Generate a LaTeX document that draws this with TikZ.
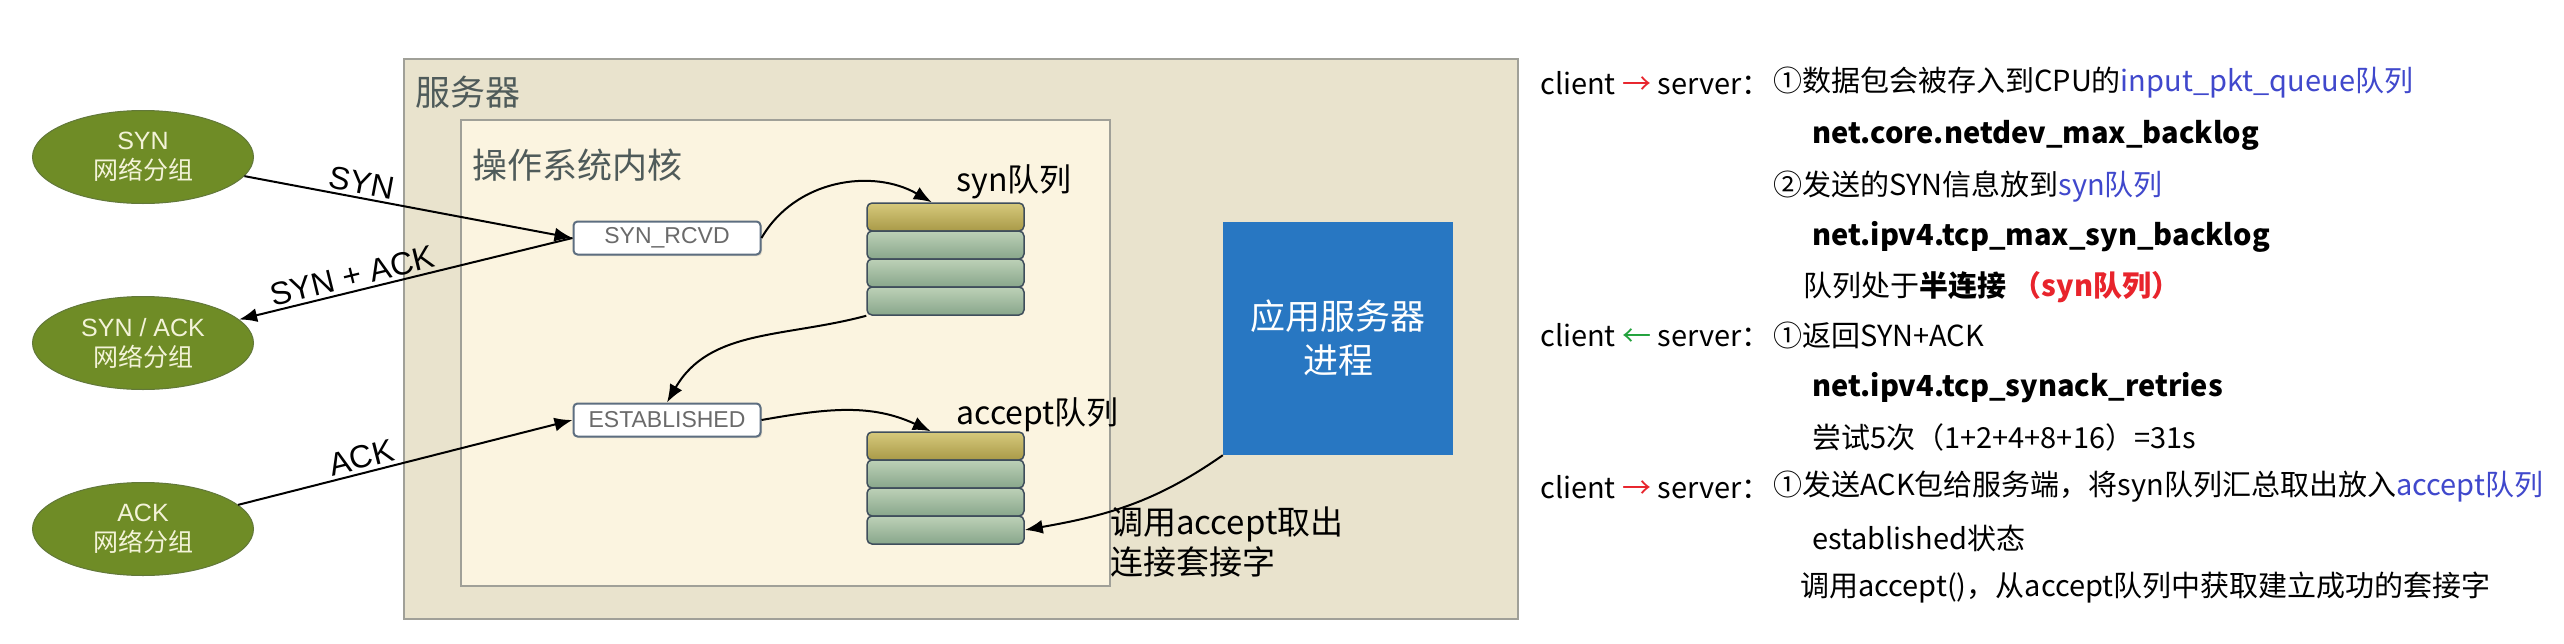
\documentclass[tikz,border=0pt]{standalone}
\usepackage{fontspec}
\setmainfont{Noto Sans CJK SC}
\newfontfamily\arial{Liberation Sans}
\usetikzlibrary{arrows.meta,shapes.geometric,shadows}
\definecolor{outerbg}{HTML}{E9E3CD}
\definecolor{innerbg}{HTML}{FBF4E0}
\definecolor{framegray}{HTML}{A0A098}
\definecolor{titlegray}{HTML}{4F5B5A}
\definecolor{pktgreen}{HTML}{6F8C26}
\definecolor{pktedge}{HTML}{62783A}
\definecolor{pkttext}{HTML}{F3F3D8}
\definecolor{stateedge}{HTML}{5D6E80}
\definecolor{stategray}{HTML}{6A6A6A}
\definecolor{celledge}{HTML}{3F4E5C}
\definecolor{celltop}{HTML}{BDD1B7}
\definecolor{cellbot}{HTML}{88A68B}
\definecolor{headtop}{HTML}{D6C97C}
\definecolor{headbot}{HTML}{A99A48}
\definecolor{appblue}{HTML}{2877C2}
\definecolor{linkblue}{HTML}{4048CC}
\definecolor{arrowred}{HTML}{E8242C}
\definecolor{arrowgreen}{HTML}{22A23C}

\begin{document}
\begin{tikzpicture}[x=1pt,y=1pt,
  boxframe/.style={draw=framegray, line width=1.5pt, anchor=north west, inner sep=0pt},
  boxtitle/.style={anchor=west, text=titlegray, font=\fontsize{35}{40}\selectfont},
  pkt/.style={ellipse, fill=pktgreen, draw=pktedge, line width=1pt, minimum width=221pt,
    minimum height=93pt, inner sep=0pt, text=pkttext, align=center, font=\fontsize{25}{30}\selectfont},
  state/.style={rectangle, rounded corners=4pt, fill=white, draw=stateedge, line width=2pt,
    minimum width=187pt, minimum height=33pt, inner sep=0pt, text=stategray,
    font=\arial\fontsize{23}{26}\selectfont,
    drop shadow={opacity=0.25, shadow xshift=1.5pt, shadow yshift=-1.5pt}},
  cell/.style={rectangle, rounded corners=5pt, draw=celledge, line width=1.5pt,
    minimum width=157pt, minimum height=28pt, inner sep=0pt, top color=celltop, bottom color=cellbot},
  headcell/.style={cell, top color=headtop, bottom color=headbot},
  qlabel/.style={anchor=west, font=\fontsize{32}{36}\selectfont},
  flow/.style={-{Latex[length=18pt,width=14pt]}, line width=2pt},
  msg/.style={font=\arial\fontsize{32}{36}\selectfont, sloped, above},
  note/.style={anchor=west, inner sep=0pt, font=\fontsize{29}{34}\selectfont},
]
\useasboundingbox (0,0) rectangle (2564,-643);
\fill[white] (0,0) rectangle (2564,-643);

% server and kernel
\node[boxframe, fill=outerbg, minimum width=1114pt, minimum height=560pt] (server) at (403,-58) {};
\node[boxtitle] (servertitle) at (412,-92) {服务器};
\node[boxframe, fill=innerbg, minimum width=649pt, minimum height=466pt] (kernel) at (460,-119) {};
\node[boxtitle] (kerneltitle) at (469,-165) {操作系统内核};

% packets
\node[pkt] (synpkt) at (143,-157) {{\arial SYN}\\网络分组};
\node[pkt] (synackpkt) at (143,-343) {{\arial SYN / ACK}\\网络分组};
\node[pkt] (ackpkt) at (143,-529) {{\arial ACK}\\网络分组};

% states
\node[state] (rcvd) at (667,-238) {SYN\_RCVD};
\node[state] (estab) at (667,-420) {ESTABLISHED};

% queues
\foreach \i/\s in {1/headcell,2/cell,3/cell,4/cell} {
  \node[\s] (synq\i) at (945.5,{-217-28*(\i-1)}) {};
  \node[\s] (accq\i) at (945.5,{-446-28*(\i-1)}) {};
}
\node[qlabel] (synlbl) at (953,-182) {syn队列};
\node[qlabel] (acclbl) at (953,-415) {accept队列};

% application
\node[fill=appblue, minimum width=230pt, minimum height=233pt, inner sep=0pt, text=white,
  align=center, font=\fontsize{35}{44}\selectfont] (app) at (1338,-338.5) {应用服务器\\进程};
\node[anchor=west, align=left, inner sep=0pt, font=\fontsize{33}{40}\selectfont] (calllbl)
  at (1110,-542) {调用accept取出\\连接套接字};

% connectors
\draw[flow] (synpkt) -- (rcvd.west) node[msg, pos=0.35] {SYN};
\draw[flow] (rcvd.west) -- (synackpkt) node[msg, pos=0.65] {SYN + ACK};
\draw[flow] (ackpkt) -- (estab.west) node[msg, pos=0.38] {ACK};
\draw[flow] (rcvd.east) to[out=60,in=150] (synq1.133);
\draw[flow] (synq4.south west) to[out=195,in=60] (estab.north);
\draw[flow] (estab.east) to[out=10,in=155] (accq1.135);
\draw[flow] (app.south west) to[out=215,in=10] (accq4.east);

% notes
\node[note] (cs1) at (1540,-83) {client \textcolor{arrowred}{→} server：};
\node[note] (cs6) at (1540,-335) {client \textcolor{arrowgreen}{←} server：};
\node[note] (cs9) at (1540,-487) {client \textcolor{arrowred}{→} server：};
\foreach \n/\x/\y/\t in {
  1/1773/83/{①数据包会被存入到CPU的\textcolor{linkblue}{input\_pkt\_queue队列}},
  2/1812/135/{\textbf{net.core.netdev\_max\_backlog}},
  3/1773/187/{②发送的SYN信息放到\textcolor{linkblue}{syn队列}},
  4/1812/237/{\textbf{net.ipv4.tcp\_max\_syn\_backlog}},
  5/1803/287/{队列处于\textbf{半连接} \textcolor{arrowred}{\textbf{（syn队列）}}},
  6/1773/335/{①返回SYN+ACK},
  7/1812/388/{\textbf{net.ipv4.tcp\_synack\_retries}},
  8/1812/437/{尝试5次（1+2+4+8+16）=31s},
  9/1773/487/{①发送ACK包给服务端，将syn队列汇总取出放入\textcolor{linkblue}{accept队列}},
  10/1812/538/{established状态},
  11/1800/588/{调用accept()，从accept队列中获取建立成功的套接字}
} \node[note] (line\n) at (\x,-\y) {\t};
\end{tikzpicture}
\end{document}
